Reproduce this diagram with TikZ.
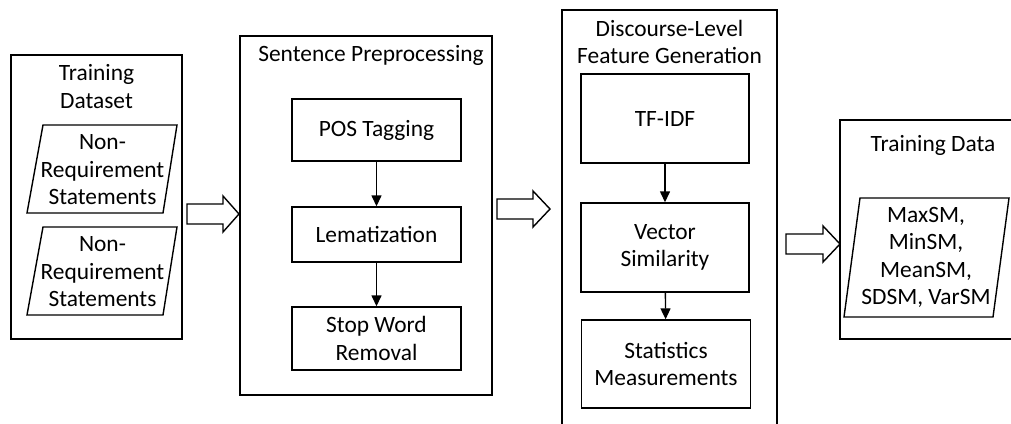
\documentclass[tikz,border=0pt]{standalone}
\usepackage{fontspec}
\setmainfont{Carlito}
\usetikzlibrary{arrows.meta}
\newcommand\diagfont{\fontsize{23.4}{27.5}\selectfont}
\begin{document}
\begin{tikzpicture}[x=1pt,y=-1pt,
  container/.style={draw, line width=1.4pt, inner sep=0pt},
  stepbox/.style={draw, line width=1.4pt, minimum width=169pt, align=center, font=\diagfont, inner sep=0pt},
  txt/.style={align=center, font=\diagfont, inner sep=0pt},
  para/.style={draw, line width=1.4pt, line join=miter},
  flow/.style={line width=1.4pt, -{Triangle[width=10pt,length=11pt]}},
  blockarrow/.style={draw, line width=1.4pt, fill=white, line join=miter}]

\useasboundingbox (0,0) rectangle (1011,423);
\fill[white] (0,0) rectangle (1011,423);
\clip (0,0) rectangle (1011,423);

% Training dataset
\node[container, minimum width=171pt, minimum height=284pt] (ds) at (96.5,197) {};
\node[txt] (dstitle) at (96.5,86.5) {Training\\Dataset};
\node[txt] (nrs1) at (102.5,170) {Non-\\Requirement\\Statements};
\draw[para] (43,125) -- (177,125) -- (163,213) -- (27,213) -- cycle;
\node[txt] (nrs2) at (102.5,272) {Non-\\Requirement\\Statements};
\draw[para] (43,227) -- (177,227) -- (163,315) -- (27,315) -- cycle;

% Sentence preprocessing
\node[container, minimum width=252pt, minimum height=359pt] (sp) at (366,215.5) {};
\node[txt] (sptitle) at (371,55) {Sentence Preprocessing};
\node[stepbox, minimum height=62pt] (pos) at (376.5,130) {POS Tagging};
\node[stepbox, minimum height=55pt] (lem) at (376.5,234.5) {Lematization};
\node[stepbox, minimum height=63pt] (swr) at (376.5,338.5) {Stop Word\\Removal};
\draw[flow] (pos) -- (lem);
\draw[flow] (lem) -- (swr);

% Discourse-level feature generation
\node[container, minimum width=215pt, minimum height=435pt] (dfg) at (669.5,227.5) {};
\node[txt] (dfgtitle) at (669.5,42) {Discourse-Level\\Feature Generation};
\node[stepbox, minimum height=89pt, minimum width=168pt] (tfidf) at (665,118.5) {TF-IDF};
\node[stepbox, minimum height=89pt, minimum width=168pt] (vec) at (665,247.5) {Vector\\Similarity};
\node[stepbox, minimum height=88pt, minimum width=169pt] (stat) at (666,364) {Statistics\\Measurements};
\draw[flow] (tfidf) -- (vec);
\draw[flow] (vec) -- (stat);

% Training data
\node[container, minimum width=190pt, minimum height=219pt] (td) at (935,229.5) {};
\node[txt] (tdtitle) at (933,145) {Training Data};
\node[txt] (feat) at (926,257.5) {MaxSM,\\MinSM,\\MeanSM,\\SDSM, VarSM};
\draw[para] (860,198) -- (1009,198) -- (993,317) -- (844,317) -- cycle;

% Hollow block arrows between the stages
\draw[blockarrow] (187,204) -- (223,204) -- (223,196) -- (239,214) -- (223,232) -- (223,224) -- (187,224) -- cycle;
\draw[blockarrow] (497,199) -- (533,199) -- (533,191) -- (550,209) -- (533,227) -- (533,219) -- (497,219) -- cycle;
\draw[blockarrow] (786,234) -- (823,234) -- (823,226) -- (840,244) -- (823,262) -- (823,254) -- (786,254) -- cycle;

\end{tikzpicture}
\end{document}
